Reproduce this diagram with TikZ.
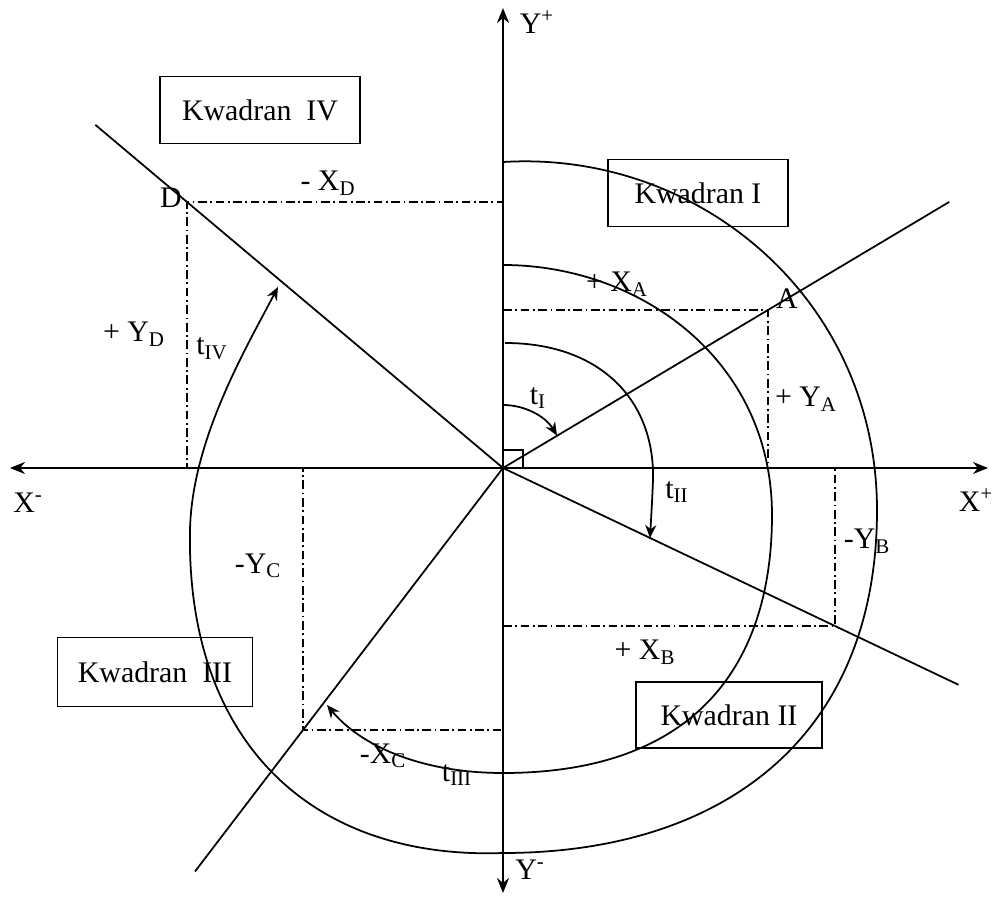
\documentclass[tikz,border=0pt]{standalone}
\usepackage{fontspec}
\setmainfont{Liberation Serif}
\usetikzlibrary{arrows.meta,calc}

\begin{document}
\begin{tikzpicture}[
    x=0.02cm,y=-0.02cm,
    font=\fontsize{17}{20}\selectfont,
    axis/.style={{Stealth[length=3mm,width=2.4mm]}-{Stealth[length=3mm,width=2.4mm]},line width=1.2pt},
    ray/.style={line width=1pt},
    proj/.style={line width=0.8pt,dash pattern=on 5pt off 2pt on 1pt off 2pt},
    turn/.style={-{Stealth[length=2.6mm,width=2.2mm]},line width=1pt},
    quadbox/.style={draw,line width=0.9pt,inner sep=0pt,minimum height=1.34cm},
    lbl/.style={inner sep=0pt}
  ]
    \useasboundingbox (0,0) rectangle (992,898);

    % origin, axes ends and the four points
    \coordinate (O) at (503,468);
    \coordinate (xneg) at (10,468);
    \coordinate (xpos) at (988,468);
    \coordinate (ypos) at (503,8);
    \coordinate (yneg) at (503,893);
    \coordinate (ptA) at (768,310);
    \coordinate (ptB) at (835,626);
    \coordinate (ptC) at (303,730);
    \coordinate (ptD) at (187,202);

    % projections on the axes
    \draw[proj] (O) rectangle (ptA);
    \draw[proj] (O) rectangle (ptB);
    \draw[proj] (O) rectangle (ptC);
    \draw[proj] (O) rectangle (ptD);

    % axes
    \draw[axis] (xneg) -- (xpos);
    \draw[axis] (yneg) -- (ypos);
    \draw[line width=0.8pt] (O) rectangle (523,450);

    % rays through A, B, C, D
    \draw[ray] (O) -- ($(O)!1.684!(ptA)$);
    \draw[ray] (O) -- ($(O)!1.372!(ptB)$);
    \draw[ray] (O) -- ($(O)!1.54!(ptC)$);
    \draw[ray] (O) -- ($(O)!1.29!(ptD)$);

    % turning angles
    \draw[turn] (503,405) arc[start angle=-90,end angle=-31,radius=63];
    \draw[turn] (505,343) .. controls (600,343) and (655,400) .. (653,480)
      .. controls (652,505) and (651,520) .. (650,538);
    \draw[turn] (503,265) .. controls (640,265) and (772,360) .. (772,515)
      .. controls (772,660) and (700,773) .. (503,773)
      .. controls (420,773) and (360,745) .. (327,705);
    \draw[turn] (503,162) .. controls (700,150) and (877,300) .. (877,510)
      .. controls (877,740) and (720,853) .. (503,853)
      .. controls (310,860) and (186,740) .. (190,530)
      .. controls (192,440) and (245,350) .. (278,287);

    % quadrant boxes
    \node[quadbox,fill=white,minimum width=4cm] (kw4) at (260,110) {Kwadran\ \ IV};
    \node[quadbox,minimum width=3.6cm] (kw1) at (698,193) {Kwadran I};
    \node[quadbox,minimum width=3.9cm,minimum height=1.38cm] (kw3) at (155,672) {Kwadran\ \ III};
    \node[quadbox,minimum width=3.72cm,minimum height=1.32cm] (kw2) at (729,715) {Kwadran II};

    % axis labels
    \node[lbl] (lypos) at (537,22) {Y\textsuperscript{+}};
    \node[lbl] (lyneg) at (530,870) {Y\textsuperscript{-}};
    \node[lbl] (lxneg) at (28,503) {X\textsuperscript{-}};
    \node[lbl] (lxpos) at (976,500) {X\textsuperscript{+}};

    % point and coordinate labels
    \node[lbl] (lA) at (787,299) {A};
    \node[lbl] (lD) at (171,198) {D};
    \node[lbl] (lxa) at (617,284) {+ X\textsubscript{A}};
    \node[lbl] (lya) at (806,399) {+ Y\textsubscript{A}};
    \node[lbl] (lyb) at (867,541) {-Y\textsubscript{B}};
    \node[lbl] (lxb) at (645,652) {+ X\textsubscript{B}};
    \node[lbl] (lyc) at (258,566) {-Y\textsubscript{C}};
    \node[lbl] (lxc) at (383,756) {-X\textsubscript{C}};
    \node[lbl] (lxd) at (328,183) {- X\textsubscript{D}};
    \node[lbl] (lyd) at (134,334) {+ Y\textsubscript{D}};

    % angle labels
    \node[lbl] (lt1) at (538,398) {t\textsubscript{I}};
    \node[lbl] (lt2) at (677,492) {t\textsubscript{II}};
    \node[lbl] (lt3) at (457,775) {t\textsubscript{III}};
    \node[lbl] (lt4) at (212,349) {t\textsubscript{IV}};
  \end{tikzpicture}
\end{document}
